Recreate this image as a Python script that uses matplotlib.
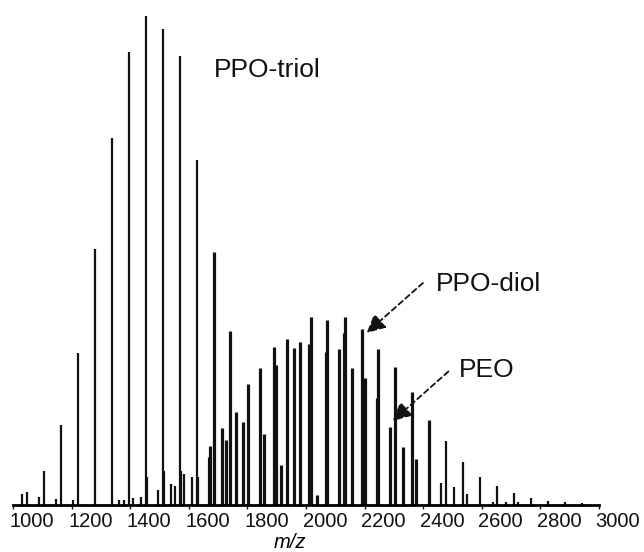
import matplotlib
matplotlib.use("Agg")
import matplotlib.pyplot as plt
from matplotlib.transforms import ScaledTranslation

# peak list: m/z and relative intensity (%)
mz = [
    1031, 1047, 1089, 1105, 1147, 1163, 1205, 1223, 1280, 1338,
    1363, 1379, 1396, 1409, 1436, 1454, 1458, 1496, 1512, 1515,
    1539, 1553, 1570, 1573, 1584, 1611, 1628, 1630, 1668, 1673,
    1686, 1715, 1726, 1741, 1760, 1784, 1802, 1843, 1858, 1890,
    1898, 1915, 1935, 1958, 1979, 2011, 2016, 2036, 2067, 2073,
    2112, 2129, 2132, 2156, 2190, 2200, 2242, 2247, 2287, 2304,
    2330, 2363, 2375, 2420, 2462, 2478, 2505, 2536, 2550, 2594,
    2638, 2651, 2682, 2710, 2724, 2768, 2826, 2884, 2942,
]
intensity = [
    2.2, 2.7, 1.6, 7.0, 1.2, 16.4, 1.0, 31.1, 52.4, 75.1,
    1.0, 1.0, 92.6, 1.4, 1.6, 100.0, 5.7, 3.1, 97.3, 7.0,
    4.3, 3.9, 91.8, 7.0, 6.3, 5.7, 70.6, 5.7, 9.8, 12.1,
    51.7, 15.7, 13.3, 35.6, 19.0, 17.0, 24.7, 28.0, 14.5, 32.3,
    28.6, 8.2, 33.9, 32.1, 33.3, 32.9, 38.4, 2.0, 31.3, 37.8,
    31.9, 35.2, 38.4, 28.0, 36.0, 26.0, 21.9, 31.9, 16.0, 28.2,
    11.9, 23.1, 9.4, 17.4, 4.5, 13.1, 3.7, 8.8, 2.2, 5.7,
    0.6, 3.9, 0.6, 2.5, 0.6, 1.4, 0.8, 0.6, 0.4,
]
xticks = [1000, 1200, 1400, 1600, 1800, 2000, 2200, 2400, 2600, 2800, 3000]

plt.rcParams["font.family"] = ["Liberation Sans", "DejaVu Sans"]

fig = plt.figure(figsize=(6.44, 5.52), dpi=100)
ax = fig.add_axes([13 / 644, 47 / 552, 586 / 644, 489 / 552])
# the diol/PEO region reads heavier in the scan (isotope clusters), so thicker strokes there
widths = [2.3 if 1650 < m < 2450 else 1.6 for m in mz]
ax.vlines(mz, 0, intensity, color="#111111", linewidth=widths)

ax.set_xlim(1000, 3000)
ax.set_ylim(0, 100)
for side in ("top", "right", "left"):
    ax.spines[side].set_visible(False)
ax.spines["bottom"].set_linewidth(2)
ax.set_yticks([])
ax.set_xticks(xticks)
ax.set_xticklabels([str(t) for t in xticks])
ax.tick_params(axis="x", length=3, width=1, pad=2, labelsize=14.5, colors="#111111")
shift = ScaledTranslation(19 / 100, 0, fig.dpi_scale_trans)
for lab in ax.get_xticklabels():
    lab.set_transform(lab.get_transform() + shift)
ax.set_xlabel("m/z", fontsize=14.5, style="italic", va="center")
ax.xaxis.set_label_coords(277 / 586, -38 / 489)

ax.text(1686, 89, "PPO-triol", fontsize=19, va="center", ha="left", color="#111111")
ax.text(2444, 45.2, "PPO-diol", fontsize=19, va="center", ha="left", color="#111111")
ax.text(2522, 27.6, "PEO", fontsize=19, va="center", ha="left", color="#111111")

arrow = dict(arrowstyle="-|>", linestyle=(0, (3, 2)), lw=1.3, color="#111111",
             mutation_scale=28, shrinkA=0, shrinkB=0)
ax.annotate("", xy=(2207, 35.2), xytext=(2399, 45.4), arrowprops=arrow)
ax.annotate("", xy=(2296, 17.2), xytext=(2486, 27.3), arrowprops=arrow)

fig.savefig("out.png", dpi=100)
